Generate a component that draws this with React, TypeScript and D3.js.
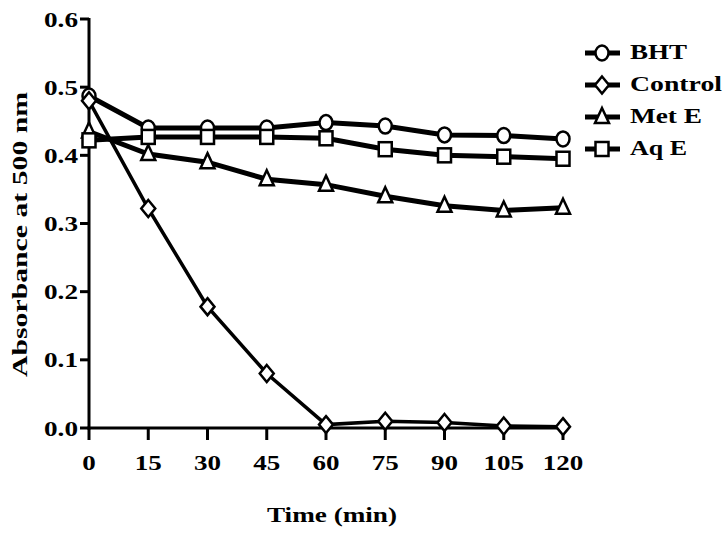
import React from "react";
import * as d3 from "d3";

const times = [0, 15, 30, 45, 60, 75, 90, 105, 120];
const bht = [0.487, 0.44, 0.44, 0.44, 0.448, 0.443, 0.43, 0.429, 0.424];
const control = [0.48, 0.322, 0.178, 0.08, 0.005, 0.01, 0.008, 0.003, 0.002];
const metE = [0.435, 0.402, 0.39, 0.365, 0.357, 0.34, 0.326, 0.319, 0.323];
const aqE = [0.422, 0.427, 0.427, 0.427, 0.425, 0.409, 0.4, 0.398, 0.395];
const seriesNames = ["BHT", "Control", "Met E", "Aq E"];
const yTicks = [0.0, 0.1, 0.2, 0.3, 0.4, 0.5, 0.6];

const W = 728, H = 535;
const x0 = 89, x1 = 563, yTop = 19, yBot = 428;
const FONT = "'Liberation Serif', 'Times New Roman', Times, serif";

function Marker({ kind, cx, cy }: { kind: string; cx: number; cy: number }) {
  const common = { fill: "#fff", stroke: "#000", strokeWidth: 2.5 };
  if (kind === "BHT") return <ellipse cx={cx} cy={cy} rx={6.5} ry={7.5} {...common} />;
  if (kind === "Control")
    return <path d={`M${cx},${cy - 8.5}L${cx + 7},${cy}L${cx},${cy + 8.5}L${cx - 7},${cy}Z`} {...common} />;
  if (kind === "Met E")
    return <path d={`M${cx},${cy - 9}L${cx + 7},${cy + 6}L${cx - 7},${cy + 6}Z`} {...common} />;
  return <rect x={cx - 6.5} y={cy - 7} width={13} height={14} {...common} />;
}

function T(props: any) {
  const { children, len, ...rest } = props;
  return (
    <text {...rest} textLength={len} lengthAdjust="spacingAndGlyphs" style={{ fontFamily: FONT, fontWeight: "bold" }}>
      {children}
    </text>
  );
}

export default function App() {
  const x = d3.scaleLinear().domain([0, 120]).range([x0, x1]);
  const y = d3.scaleLinear().domain([0, 0.6]).range([yBot, yTop]);
  const data = [bht, control, metE, aqE];
  const line = d3.line<number>().x((_, i) => x(times[i])).y((d) => y(d));
  const legendY = [53, 85, 117, 149];
  const legendLen = [57, 92, 72, 57];
  return (
    <svg width={W} height={H} style={{ position: "absolute", left: 0, top: 0, background: "#fff" }}>
      <rect width={W} height={H} fill="#fff" />
      {/* axes */}
      <line x1={x0} x2={x0} y1={yTop - 1} y2={yBot + 1.5} stroke="#000" strokeWidth={3} />
      <line x1={x0 - 1.5} x2={x1 + 2} y1={yBot} y2={yBot} stroke="#000" strokeWidth={3} />
      {yTicks.map((t) => (
        <g key={"y" + t}>
          <line x1={x0 - 9} x2={x0} y1={y(t)} y2={y(t)} stroke="#000" strokeWidth={3} />
          <T x={78} y={y(t) + 7.5} textAnchor="end" fontSize={21} len={34}>{t.toFixed(1)}</T>
        </g>
      ))}
      {times.map((t) => {
        const s = String(t);
        return (
          <g key={"x" + t}>
            <line x1={x(t)} x2={x(t)} y1={yBot} y2={yBot + 12} stroke="#000" strokeWidth={3} />
            <T x={x(t)} y={yBot + 42} textAnchor="middle" fontSize={21} len={s.length * 13.5}>{s}</T>
          </g>
        );
      })}
      <T x={332} y={522} textAnchor="middle" fontSize={22} len={130}>Time (min)</T>
      <T transform={`translate(27,234.5) rotate(-90)`} textAnchor="middle" fontSize={22} len={285}>Absorbance at 500 nm</T>
      {/* lines */}
      {data.map((d, si) => (
        <path key={"l" + si} d={line(d) || ""} fill="none" stroke="#000" strokeWidth={si === 1 ? 3.5 : 5} />
      ))}
      {data.map((d, si) =>
        d.map((v, i) => <Marker key={`m${si}-${i}`} kind={seriesNames[si]} cx={x(times[i])} cy={y(v)} />)
      )}
      {/* legend */}
      {seriesNames.map((n, i) => (
        <g key={"lg" + n}>
          <line x1={585} x2={620} y1={legendY[i]} y2={legendY[i]} stroke="#000" strokeWidth={5} />
          <Marker kind={n} cx={602} cy={legendY[i]} />
          <T x={630} y={legendY[i] + 6} fontSize={21} len={legendLen[i]}>{n}</T>
        </g>
      ))}
    </svg>
  );
}
